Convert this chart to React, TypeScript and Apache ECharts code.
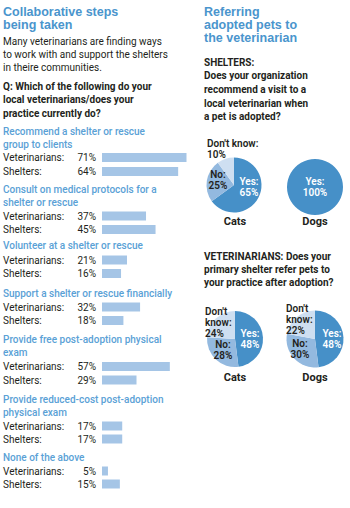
import React, { useEffect, useRef } from 'react';
import * as echarts from 'echarts';

// ---- data ----
const questions = [
  'Recommend a shelter or rescue\ngroup to clients',
  'Consult on medical protocols for a\nshelter or rescue',
  'Volunteer at a shelter or rescue',
  'Support a shelter or rescue financially',
  'Provide free post-adoption physical\nexam',
  'Provide reduced-cost post-adoption\nphysical exam',
  'None of the above',
];
const respondents = ['Veterinarians:', 'Shelters:'];
const vetValues = [71, 37, 21, 32, 57, 17, 5];
const shelterValues = [64, 45, 16, 18, 29, 17, 15];

const answers = ['Yes', 'No', "Don't know"];
const shelterCats = [65, 25, 10];
const shelterDogs = [100, 0, 0];
const vetCats = [48, 28, 24];
const vetDogs = [48, 30, 22];
const petNames = ['Cats', 'Dogs'];

const leftTitle = ['Collaborative steps', 'being taken'];
const leftIntro = ['Many veterinarians are finding ways', 'to work with and support the shelters', 'in theire communities.'];
const leftQuestion = ['Q: Which of the following do your', 'local veterinarians/does your', 'practice currently do?'];
const rightTitle = ['Referring', 'adopted pets to', 'the veterinarian'];
const shelterQ = ['SHELTERS:', 'Does your organization', 'recommend a visit to a', 'local veterinarian when', 'a pet is adopted?'];
const vetQ = ['VETERINARIANS: Does your', 'primary shelter refer pets to', 'your practice after adoption?'];

// ---- layout / style ----
const FF = 'Roboto, "Liberation Sans", sans-serif';
const TF = '"Liberation Sans", Arial, sans-serif';
const TEXT = '#231f20';
const TITLE_BLUE = '#4a95cd';
const HEAD_BLUE = '#5aa1d6';
const BAR = '#a5c5e6';
const PIE_COLORS = ['#4690c8', '#93b9df', '#cedff1'];

const headerY = [[131, 144], [189, 202.5], [245], [293], [339, 352.5], [399, 412.5], [457]];
const vetRowY = [157.5, 216, 260, 307, 366.5, 426, 471];
const rowGap = [14, 13.5, 13.5, 13.5, 13.5, 13, 13];
const BAR_LEFT = 102;
const BAR_FULL = 119;

function line(text: string, x: number, y: number, font: string, fill: string, align = 'left') {
  return {
    type: 'text',
    x,
    y,
    silent: true,
    style: { text, font, fill, textAlign: align, textVerticalAlign: 'middle' },
  };
}

function lines(texts: string[], x: number, y0: number, step: number, font: string, fill: string) {
  return texts.map((t, i) => line(t, x, y0 + i * step, font, fill));
}

type PieCfg = {
  values: number[];
  center: [number, number];
  radius: number;
  split: boolean;
  labelPos: Record<string, [number, number, string]>;
};

const pies: PieCfg[] = [
  {
    values: shelterCats, center: [234, 185], radius: 27.5, split: false,
    labelPos: { Yes: [249, 187, 'center'], No: [218, 180, 'center'], "Don't know": [207, 148.5, 'left'] },
  },
  {
    values: shelterDogs, center: [315, 187], radius: 28, split: false,
    labelPos: { Yes: [315, 186.5, 'center'] },
  },
  {
    values: vetCats, center: [235, 339], radius: 28, split: true,
    labelPos: { Yes: [250, 339, 'center'], No: [223, 350, 'center'], "Don't know": [205, 322, 'left'] },
  },
  {
    values: vetDogs, center: [315, 339], radius: 28.5, split: true,
    labelPos: { Yes: [332, 339, 'center'], No: [300, 349, 'center'], "Don't know": [286, 319, 'left'] },
  },
];

export default function App() {
  const ref = useRef<HTMLDivElement>(null);
  useEffect(() => {
    document.body.style.margin = '0';
    const chart = echarts.init(ref.current!, null, { renderer: 'svg' });

    const grids: any[] = [];
    const xAxes: any[] = [];
    const yAxes: any[] = [];
    const series: any[] = [];

    questions.forEach((q, i) => {
      const g = rowGap[i];
      grids.push({ left: BAR_LEFT, width: BAR_FULL, top: vetRowY[i] - g / 2, height: g * 2 });
      xAxes.push({ gridIndex: i, type: 'value', min: 0, max: 100, show: false });
      yAxes.push({
        gridIndex: i,
        type: 'category',
        inverse: true,
        data: respondents,
        axisLine: { show: false },
        axisTick: { show: false },
        splitLine: { show: false },
        axisLabel: {
          interval: 0,
          hideOverlap: false,
          align: 'left',
          margin: BAR_LEFT - 3,
          color: TEXT,
          fontSize: 10,
          fontFamily: FF,
        },
      });
      series.push({
        type: 'bar',
        xAxisIndex: i,
        yAxisIndex: i,
        data: [vetValues[i], shelterValues[i]],
        barWidth: 9,
        itemStyle: { color: BAR },
        silent: true,
        label: {
          show: true,
          position: 'left',
          distance: 6,
          formatter: '{c}%',
          color: TEXT,
          fontSize: 10,
          fontFamily: FF,
        },
      });
    });

    pies.forEach((p) => {
      const data = p.values
        .map((v, k) => ({ name: answers[k], value: v, k }))
        .filter((d) => d.value > 0)
        .map((d) => ({
          name: d.name,
          value: d.value,
          itemStyle: { color: PIE_COLORS[d.k] },
          label: { color: d.k === 0 ? '#ffffff' : TEXT },
        }));
      series.push({
        type: 'pie',
        center: p.center,
        radius: p.radius,
        startAngle: 90,
        clockwise: true,
        silent: true,
        data,
        labelLine: { show: false },
        label: {
          show: true,
          position: 'inside',
          fontFamily: FF,
          fontSize: 10,
          fontWeight: 600,
          lineHeight: 11,
          formatter: (prm: any) => {
            const nm = p.split && prm.name === "Don't know" ? "Don't\nknow" : prm.name;
            return `${nm}:\n${prm.value}%`;
          },
        },
        labelLayout: (prm: any) => {
          const pos = p.labelPos[data[prm.dataIndex].name];
          return pos ? { x: pos[0], y: pos[1], align: pos[2], verticalAlign: 'middle' } : {};
        },
      });
    });

    const graphics: any[] = [
      ...lines(leftTitle, 3, 12, 13, `bold 12.5px ${TF}`, TITLE_BLUE),
      ...lines(leftIntro, 3, 41, 13.3, `10px ${FF}`, TEXT),
      ...lines(leftQuestion, 3, 86, 13.5, `bold 10px ${FF}`, TEXT),
      ...lines(rightTitle, 204, 12, 13, `bold 12.5px ${TF}`, TITLE_BLUE),
      ...lines(shelterQ, 204, 62, 13.7, `bold 10px ${FF}`, TEXT),
      ...lines(vetQ, 204, 256, 13, `bold 10px ${FF}`, TEXT),
      line(petNames[0], 235, 221, `bold 11px ${FF}`, TEXT, 'center'),
      line(petNames[1], 315, 221, `bold 11px ${FF}`, TEXT, 'center'),
      line(petNames[0], 235, 377, `bold 11px ${FF}`, TEXT, 'center'),
      line(petNames[1], 315, 377, `bold 11px ${FF}`, TEXT, 'center'),
    ];
    questions.forEach((q, i) => {
      q.split('\n').forEach((t, j) => {
        graphics.push(line(t, 3, headerY[i][j], `500 10px ${FF}`, HEAD_BLUE));
      });
    });

    chart.setOption({
      animation: false,
      backgroundColor: '#ffffff',
      grid: grids,
      xAxis: xAxes,
      yAxis: yAxes,
      series,
      graphic: { elements: graphics },
    });
    return () => chart.dispose();
  }, []);
  return <div ref={ref} style={{ width: 350, height: 508 }} />;
}
